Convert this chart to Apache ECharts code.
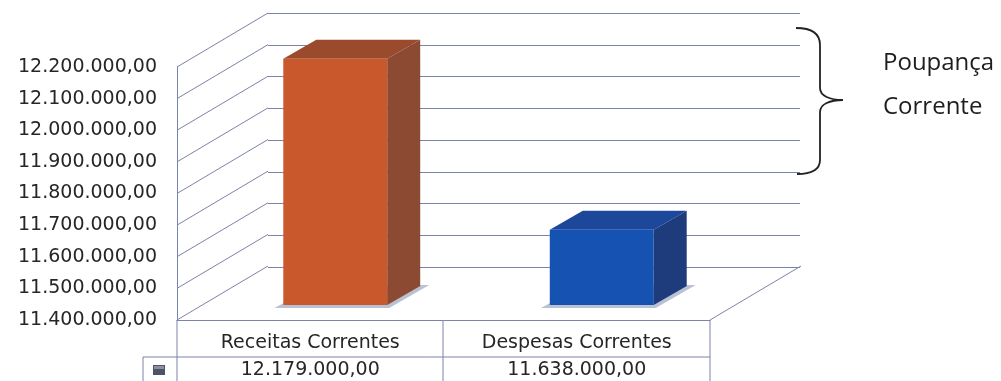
<!DOCTYPE html>
<html><head><meta charset="utf-8">
<script src="https://cdn.jsdelivr.net/npm/echarts@6/dist/echarts.min.js"></script>
<style>html,body{margin:0;padding:0;background:#fff}#c{width:1001px;height:381px}</style>
</head><body><div id="c"></div>
<script>
// ---- data ----
const categories = ['Receitas Correntes', 'Despesas Correntes'];
const values = [12179000, 11638000];
const yTicks = [11400000, 11500000, 11600000, 11700000, 11800000, 11900000, 12000000, 12100000, 12200000];
const sideNote = ['Poupança', 'Corrente'];

// ---- styles / geometry ----
const Y_MIN = yTicks[0], Y_MAX = yTicks[yTicks.length - 1], Y_STEP = 100000;
const LINE = '#7c83a8';
const TXT = '#262626';
const FRONT = { left: 177, top: 67, width: 533, height: 253 };
const DEPTH = { dx: 91, dy: -54 };
const BAR_OFF = { dx: 25, dy: -15 };
const BAR_DEPTH = { dx: 33, dy: -19 };
const BAR_FRAC = 0.39;
const FRONT_COL = ['#c9582c', '#1552b2'];
const SIDE_COL = ['#8c4a32', '#1e3b7c'];
const TOP_COL = ['#9b4b2d', '#1c479a'];
const ROW_Y = 370;

function fmtBR(v) {
  const s = Math.round(v).toString();
  return s.replace(/\B(?=(\d{3})+(?!\d))/g, '.') + ',00';
}

const chart = echarts.init(document.getElementById('c'), null, { renderer: 'canvas' });

const braceStyle = { stroke: '#222', lineWidth: 1.8, fill: null };

const option = {
  animation: false,
  backgroundColor: '#ffffff',
  grid: [
    { left: FRONT.left, top: FRONT.top, width: FRONT.width, height: FRONT.height },
    { left: FRONT.left + DEPTH.dx, top: FRONT.top + DEPTH.dy, width: FRONT.width - 1, height: FRONT.height + 1 }
  ],
  xAxis: [
    {
      type: 'category', gridIndex: 0, data: categories,
      axisLine: { lineStyle: { color: LINE, width: 1 } },
      axisTick: { show: false },
      axisLabel: { interval: 0, margin: 14, color: TXT, fontSize: 19, fontFamily: 'DejaVu Sans' },
      splitLine: { show: false }
    },
    { type: 'category', gridIndex: 1, data: categories, show: false }
  ],
  yAxis: [
    {
      type: 'value', gridIndex: 0, min: Y_MIN, max: Y_MAX, interval: Y_STEP,
      axisLine: { show: true, lineStyle: { color: LINE, width: 1 } },
      axisTick: { show: false },
      splitLine: { show: false },
      axisLabel: { margin: 20, color: TXT, fontSize: 19, fontFamily: 'DejaVu Sans', formatter: fmtBR }
    },
    {
      type: 'value', gridIndex: 1, min: Y_MIN, max: Y_MAX, interval: Y_STEP,
      axisLine: { show: false }, axisTick: { show: false }, axisLabel: { show: false },
      splitLine: { show: true, lineStyle: { color: LINE, width: 1 } }
    }
  ],
  series: [
    // left wall diagonals
    {
      type: 'custom', xAxisIndex: 0, yAxisIndex: 0, silent: true, z: 1,
      data: yTicks.map(v => [0, v]),
      renderItem: function (params, api) {
        const y = api.coord([0, api.value(1)])[1];
        const x = params.coordSys.x;
        return { type: 'line', shape: { x1: x, y1: y, x2: x + DEPTH.dx, y2: y + DEPTH.dy },
          style: { stroke: LINE, lineWidth: 1 } };
      }
    },
    // floor right edge
    {
      type: 'custom', xAxisIndex: 0, yAxisIndex: 0, silent: true, z: 1,
      data: [[categories.length - 1, Y_MIN]],
      renderItem: function (params, api) {
        const y = api.coord([0, api.value(1)])[1];
        const x = params.coordSys.x + params.coordSys.width;
        return { type: 'line', shape: { x1: x, y1: y, x2: x + DEPTH.dx, y2: y + DEPTH.dy },
          style: { stroke: LINE, lineWidth: 1 } };
      }
    },
    // 3D bars + table values
    {
      type: 'custom', xAxisIndex: 0, yAxisIndex: 0, z: 5,
      data: values.map((v, i) => [i, v]),
      renderItem: function (params, api) {
        const i = api.value(0), v = api.value(1);
        const top = api.coord([i, v]);
        const base = api.coord([i, Y_MIN]);
        const band = api.size([1, 0])[0];
        const w = band * BAR_FRAC;
        const xL = top[0] - w / 2 + BAR_OFF.dx, xR = xL + w;
        const yT = top[1] + BAR_OFF.dy, yB = base[1] + BAR_OFF.dy;
        const bx = BAR_DEPTH.dx, by = BAR_DEPTH.dy;
        return {
          type: 'group',
          children: [
            { type: 'polygon', shape: { points: [[xL - 9, yB + 3], [xR + 2, yB + 3], [xR + bx + 9, yB + by - 1], [xL + bx, yB + by]] },
              style: { fill: '#b9c1d3' } },
            { type: 'polygon', shape: { points: [[xL, yT], [xL + bx, yT + by], [xR + bx, yT + by], [xR, yT]] },
              style: { fill: TOP_COL[i] } },
            { type: 'polygon', shape: { points: [[xR, yT], [xR + bx, yT + by], [xR + bx, yB + by], [xR, yB]] },
              style: { fill: SIDE_COL[i] } },
            { type: 'rect', shape: { x: xL, y: yT, width: w, height: yB - yT },
              style: { fill: FRONT_COL[i] } },
            { type: 'text', x: top[0], y: ROW_Y,
              style: { text: fmtBR(v), align: 'center', verticalAlign: 'middle', fill: TXT, font: '19px "DejaVu Sans"' } }
          ]
        };
      }
    }
  ],
  graphic: [
    // table lines
    { type: 'line', shape: { x1: 143, y1: 357, x2: 710, y2: 357 }, style: { stroke: LINE, lineWidth: 1 } },
    { type: 'line', shape: { x1: 143, y1: 357, x2: 143, y2: 381 }, style: { stroke: LINE, lineWidth: 1 } },
    { type: 'line', shape: { x1: 177, y1: 320, x2: 177, y2: 381 }, style: { stroke: LINE, lineWidth: 1 } },
    { type: 'line', shape: { x1: 443, y1: 320, x2: 443, y2: 381 }, style: { stroke: LINE, lineWidth: 1 } },
    { type: 'line', shape: { x1: 710, y1: 320, x2: 710, y2: 381 }, style: { stroke: LINE, lineWidth: 1 } },
    // legend key
    { type: 'rect', shape: { x: 153, y: 365, width: 12, height: 10 }, style: { fill: '#4d5466' } },
    { type: 'rect', shape: { x: 154, y: 366, width: 10, height: 3 }, style: { fill: '#8a90a0' } },
    // brace
    { type: 'bezierCurve', shape: { x1: 796, y1: 28, cpx1: 812, cpy1: 28, cpx2: 820, cpy2: 33, x2: 820, y2: 45 }, style: braceStyle },
    { type: 'line', shape: { x1: 820, y1: 45, x2: 820, y2: 88 }, style: braceStyle },
    { type: 'bezierCurve', shape: { x1: 820, y1: 88, cpx1: 820, cpy1: 96, cpx2: 830, cpy2: 100, x2: 843, y2: 100 }, style: braceStyle },
    { type: 'bezierCurve', shape: { x1: 843, y1: 100, cpx1: 830, cpy1: 100, cpx2: 820, cpy2: 104, x2: 820, y2: 112 }, style: braceStyle },
    { type: 'line', shape: { x1: 820, y1: 112, x2: 820, y2: 160 }, style: braceStyle },
    { type: 'bezierCurve', shape: { x1: 820, y1: 160, cpx1: 820, cpy1: 169, cpx2: 812, cpy2: 174, x2: 797, y2: 174 }, style: braceStyle },
    { type: 'text', left: 883, top: 51, style: { text: sideNote[0], font: '24px "Open Sans"', fill: '#1e1e1e' } },
    { type: 'text', left: 883, top: 95, style: { text: sideNote[1], font: '24px "Open Sans"', fill: '#1e1e1e' } }
  ]
};
chart.setOption(option);
</script>
</body></html>
